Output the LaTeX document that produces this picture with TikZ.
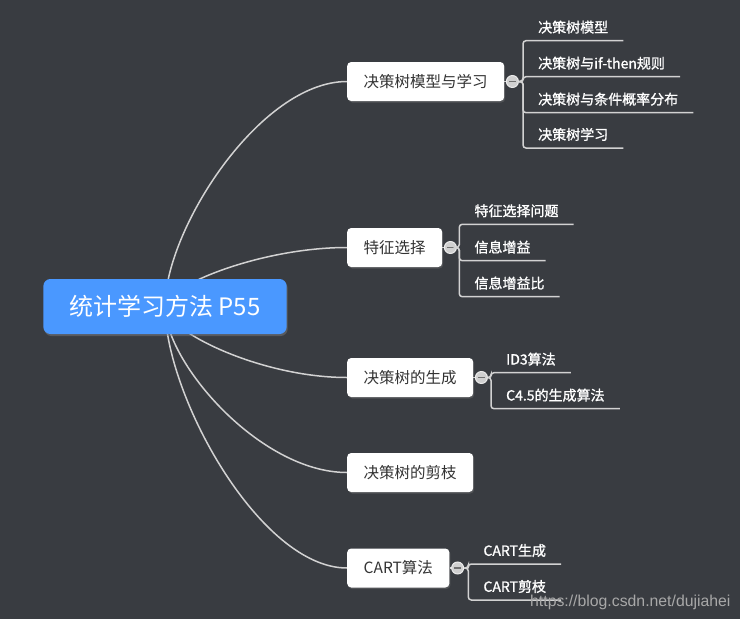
\documentclass[tikz,border=0pt]{standalone}
\usepackage{fontspec}
\setmainfont{Noto Sans CJK SC}
\newfontfamily\leaffont[FakeBold=1.2]{Noto Sans CJK SC}
\newfontfamily\urlfont{Liberation Sans}
\usetikzlibrary{shadows}
\definecolor{bgcol}{HTML}{393C41}
\definecolor{rootblue}{HTML}{4A98FF}
\definecolor{linegray}{HTML}{D2D2D2}
\definecolor{textdark}{HTML}{333333}
\definecolor{foldgray}{HTML}{D0D0D0}
\definecolor{urlgray}{HTML}{A8A8A8}
\pgfdeclarelayer{bg}
\pgfsetlayers{bg,main}
\tikzset{
  root/.style={fill=rootblue, text=white, rounded corners=7pt, minimum height=55pt, inner xsep=26pt,
    font=\fontsize{24}{28}\selectfont, drop shadow={opacity=0.45,shadow xshift=1pt,shadow yshift=-2pt}},
  topic/.style={fill=white, text=textdark, rounded corners=4pt, minimum height=39pt, inner xsep=16.5pt,
    anchor=west, font=\fontsize{15.5}{18}\selectfont, drop shadow={opacity=0.35,shadow xshift=1pt,shadow yshift=-1.5pt}},
  leaf/.style={anchor=south west, inner xsep=15pt, inner ysep=8pt, text height=10pt, text depth=0pt,
    text=white, font=\leaffont\fontsize{14}{16}\selectfont},
  fold/.style={circle, draw=white!85!gray, line width=1pt, fill=foldgray, minimum size=12pt, inner sep=0pt,
    path picture={\draw[textdark!70!white, line width=1.8pt] ([xshift=-3.2pt]path picture bounding box.center) -- ([xshift=3.2pt]path picture bounding box.center);}},
  curve/.style={linegray, line width=1.5pt},
  twig/.style={linegray, line width=1.5pt, rounded corners=3pt}
}
\begin{document}
\begin{tikzpicture}[x=1pt,y=-1pt]
%\draw[style=help lines,step=20] (0,0) grid (740,619);
\useasboundingbox (0,0) rectangle (740,619);

\node[root] (r) at (165,306.5) {统计学习方法 P55};

\node[topic] (b1) at (347,81.5) {决策树模型与学习};
\node[topic] (b2) at (347,247.5) {特征选择};
\node[topic] (b3) at (347,377.5) {决策树的生成};
\node[topic] (b4) at (347,472.5) {决策树的剪枝};
\node[topic] (b5) at (347,568) {CART算法};

\begin{pgfonlayer}{bg}
\fill[bgcol] (0,0) rectangle (740,619);
\draw[curve] (r.center) .. controls +(0,-77) and +(-87,0) .. (b1.west);
\draw[curve] (r.center) .. controls +(0,-20) and +(-87,0) .. (b2.west);
\draw[curve] (r.center) .. controls +(0,24) and +(-87,0) .. (b3.west);
\draw[curve] (r.center) .. controls +(0,56) and +(-87,0) .. (b4.west);
\draw[curve] (r.center) .. controls +(0,89) and +(-87,0) .. (b5.west);
\end{pgfonlayer}

% first topic
\node[leaf] (l11) at (523,40.7) {决策树模型};
\node[leaf] (l12) at (523,76.7) {决策树与if-then规则};
\node[leaf] (l13) at (523,112.7) {决策树与条件概率分布};
\node[leaf] (l14) at (523,148) {决策树学习};
\draw[twig] (b1.east) -- ([xshift=8pt]b1.east);
\node[fold] (c1) at ([xshift=8pt]b1.east) {};
\draw[twig] (c1.east) -| (l11.south west) -- (l11.south east);
\draw[twig] (c1.east) -| (l12.south west) -- (l12.south east);
\draw[twig] (c1.east) -| (l13.south west) -- (l13.south east);
\draw[twig] (c1.east) -| (l14.south west) -- (l14.south east);

% second topic
\node[leaf] (l21) at (459.3,224.3) {特征选择问题};
\node[leaf] (l22) at (459.3,260.7) {信息增益};
\node[leaf] (l23) at (459.3,296.7) {信息增益比};
\draw[twig] (b2.east) -- ([xshift=8pt]b2.east);
\node[fold] (c2) at ([xshift=8pt]b2.east) {};
\draw[twig] (c2.east) -| (l21.south west) -- (l21.south east);
\draw[twig] (c2.east) -| (l22.south west) -- (l22.south east);
\draw[twig] (c2.east) -| (l23.south west) -- (l23.south east);

% third topic
\node[leaf] (l31) at (491,372.7) {ID3算法};
\node[leaf] (l32) at (491,408.7) {C4.5的生成算法};
\draw[twig] (b3.east) -- ([xshift=8pt]b3.east);
\node[fold] (c3) at ([xshift=8pt]b3.east) {};
\draw[twig] (c3.east) -| (l31.south west) -- (l31.south east);
\draw[twig] (c3.east) -| (l32.south west) -- (l32.south east);

% fifth topic
\node[leaf] (l51) at (468.3,564) {CART生成};
\node[leaf] (l52) at (468.3,600) {CART剪枝};
\draw[twig] (b5.east) -- ([xshift=8pt]b5.east);
\node[fold] (c5) at ([xshift=8pt]b5.east) {};
\draw[twig] (c5.east) -| (l51.south west) -- (l51.south east);
\draw[twig] (c5.east) -| (l52.south west) -- (l52.south east);

\node[anchor=base west, inner sep=0pt, text=urlgray, font=\urlfont\fontsize{15.8}{18}\selectfont] (url) at (530,606) {https://blog.csdn.net/dujiahei};

\end{tikzpicture}
\end{document}
